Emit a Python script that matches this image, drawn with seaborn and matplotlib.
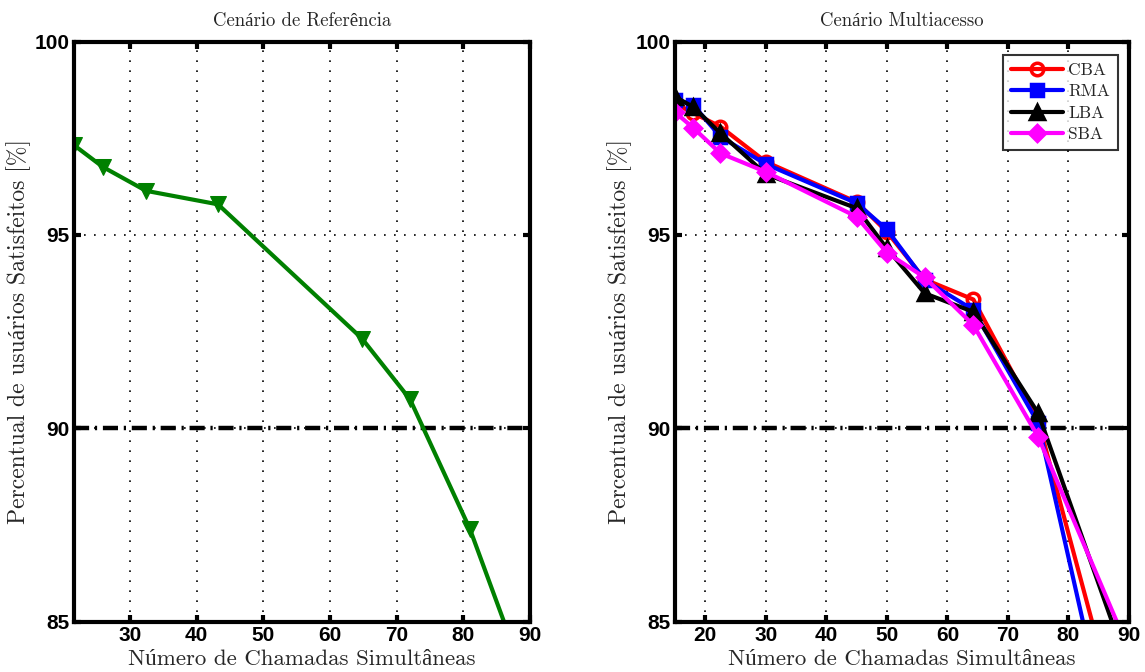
import numpy as np
import pandas as pd
import matplotlib
matplotlib.use("Agg")
import matplotlib.pyplot as plt
import seaborn as sns

# ---------------- data ----------------
ref_x = [21.6, 25.9, 32.4, 43.2, 64.8, 72.0, 81.0, 90.0]
ref_y = [97.32, 96.76, 96.14, 95.79, 92.32, 90.75, 87.39, 83.17]

multi_x = [15, 18, 22.5, 30, 45, 50, 56.25, 64.29, 75, 90]
cba = [98.40, 98.15, 97.80, 96.89, 95.85, 95.08, 93.85, 93.33, 90.20, 81.44]
rma = [98.50, 98.36, 97.54, 96.83, 95.82, 95.14, 93.83, 93.06, 90.13, 79.73]
lba = [98.57, 98.31, 97.63, 96.57, 95.69, 94.65, 93.49, 93.01, 90.39, 83.76]
sba = [98.17, 97.77, 97.11, 96.63, 95.47, 94.54, 93.90, 92.67, 89.78, 84.26]

series_names = ["CBA", "RMA", "LBA", "SBA"]
series_vals = [cba, rma, lba, sba]
series_colors = ["#ff0000", "#0000ff", "#000000", "#ff00ff"]
series_markers = ["o", "s", "^", "D"]

threshold = 90
titles = ["Cenário de Referência", "Cenário Multiacesso"]
xlabel = "Número de Chamadas Simultâneas"
ylabel = "Percentual de usuários Satisfeitos [%]"
yticks = [85, 90, 95, 100]
xticks_left = [30, 40, 50, 60, 70, 80, 90]
xticks_right = [20, 30, 40, 50, 60, 70, 80, 90]

# ---------------- style ----------------
sns.set_theme(style="white")
serif = ["cmr10", "Liberation Serif", "DejaVu Serif"]
plt.rcParams["font.family"] = serif
plt.rcParams["axes.unicode_minus"] = False
tickfont = dict(family="Liberation Sans", weight="bold", size=15)

W, H = 1145, 672
fig = plt.figure(figsize=(W / 100, H / 100), dpi=100)
ax1 = fig.add_axes([74 / W, 1 - 621.7 / H, 456 / W, 580.2 / H])
ax2 = fig.add_axes([675 / W, 1 - 621.7 / H, 454 / W, 580.2 / H])

ref_df = pd.DataFrame({"x": ref_x, "y": ref_y})
sns.lineplot(data=ref_df, x="x", y="y", ax=ax1, color="#008000", marker="v",
             markersize=12, linewidth=3, markeredgecolor="#008000", sort=False)

for name, vals, col, mk in zip(series_names, series_vals, series_colors, series_markers):
    df = pd.DataFrame({"x": multi_x, "y": vals})
    face = "none" if mk == "o" else col
    ms = {"o": 9, "s": 9, "^": 10, "D": 8}[mk]
    sns.lineplot(data=df, x="x", y="y", ax=ax2, color=col, marker=mk,
                 markersize=ms, linewidth=3, markeredgecolor=col,
                 markerfacecolor=face, markeredgewidth=2.5, label=name, sort=False)

for ax, title, xt, xl in [(ax1, titles[0], xticks_left, (21.6, 90)),
                          (ax2, titles[1], xticks_right, (15, 90))]:
    ax.axhline(threshold, color="black", linewidth=3.2,
               linestyle=(0, (3.4, 1.3, 0.5, 1.3)), zorder=1.5)
    ax.set_xlim(*xl)
    ax.set_ylim(85, 100)
    ax.set_xticks(xt)
    ax.set_yticks(yticks)
    ax.set_xticklabels([str(t) for t in xt], fontdict=tickfont)
    ax.set_yticklabels([str(t) for t in yticks], fontdict=tickfont)
    ax.grid(True, color="black", linestyle=(0, (1, 5)), linewidth=1.2)
    for s in ax.spines.values():
        s.set_visible(True)
        s.set_color("black")
        s.set_linewidth(3)
    ax.tick_params(direction="in", length=5, width=3, top=True, right=True,
                   bottom=True, left=True, pad=3, colors="black")
    ax.set_title(title, family=serif, fontsize=13.5, pad=11)
    ax.set_xlabel(xlabel, family=serif, fontsize=16.5, labelpad=3)
    ax.set_ylabel(ylabel, family=serif, fontsize=17, labelpad=3)
    ax.set_axisbelow(True)

leg = ax2.legend(loc="upper right", frameon=True, fancybox=False,
                 prop=dict(family=serif, size=12.5), handlelength=3.0,
                 borderpad=0.45, labelspacing=0.35, handletextpad=0.3,
                 borderaxespad=0.0, bbox_to_anchor=(0.975, 0.977))
leg.get_frame().set_edgecolor("black")
leg.get_frame().set_linewidth(1.5)

fig.savefig("out.png", dpi=100)
